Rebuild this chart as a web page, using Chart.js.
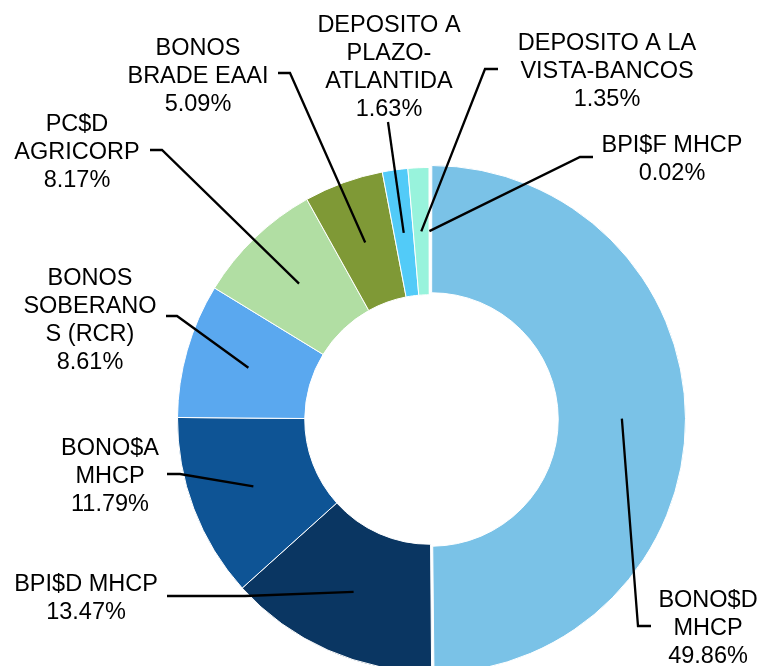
<!DOCTYPE html>
<html>
<head>
<meta charset="utf-8">
<script src="https://cdn.jsdelivr.net/npm/chart.js@4.4.1/dist/chart.umd.min.js"></script>
<style>
    html, body { margin: 0; padding: 0; background: #fff; overflow: hidden; }
    #portfolioChart { display: block; }
</style>
</head>
<body>
<canvas id="portfolioChart" width="761" height="700"></canvas>
<script>
// data (percent of portfolio)
const categories = [
    'BONO$D\nMHCP',
    'BPI$D MHCP',
    'BONO$A\nMHCP',
    'BONOS\nSOBERANO\nS (RCR)',
    'PC$D\nAGRICORP',
    'BONOS\nBRADE EAAI',
    'DEPOSITO A\nPLAZO-\nATLANTIDA',
    'DEPOSITO A LA\nVISTA-BANCOS',
    'BPI$F MHCP'
];
const shares = [49.86, 13.47, 11.79, 8.61, 8.17, 5.09, 1.63, 1.35, 0.02];
const sliceColors = ['#7AC2E7', '#0A3662', '#0E5495', '#5AA8EF', '#B1DEA3', '#7F9936', '#52CBF8', '#98F3DC', '#FFFFFF'];
// the big slice is pulled out a little (chart.js draws about half of this value)
const sliceOffsets = [8, 0, 0, 0, 0, 0, 0, 0, 0];

// where each label sits: text center x, first line y, elbow point, end of leader
const labelLayout = [
    { x: 708, y: 599, elbow: [638, 626], end: [651, 626] },
    { x: 86,  y: 583, elbow: [245, 596], end: [167, 596] },
    { x: 110, y: 447, elbow: [180, 474], end: [167, 474] },
    { x: 90,  y: 277, elbow: [177, 316], end: [166, 316] },
    { x: 77,  y: 123, elbow: [162, 150], end: [150, 150] },
    { x: 198, y: 47,  elbow: [290, 73],  end: [278, 73] },
    { x: 389, y: 24,  elbow: null,       end: [388, 122] },
    { x: 607, y: 42,  elbow: [485, 69],  end: [498, 69] },
    { x: 672, y: 144, elbow: [580, 157], end: [593, 157] }
];

const fontSize = 23.5;
const lineGap = 27.8;

const leaderLabels = {
    id: 'leaderLabels',
    afterDraw(chart) {
        const ctx = chart.ctx;
        const meta = chart.getDatasetMeta(0);
        ctx.save();
        ctx.strokeStyle = '#000';
        ctx.lineWidth = 2.3;
        ctx.fillStyle = '#000';
        ctx.font = fontSize + 'px "Liberation Sans", Arial, sans-serif';
        ctx.textAlign = 'center';
        ctx.textBaseline = 'alphabetic';
        meta.data.forEach((arc, i) => {
            const pos = arc.tooltipPosition();
            const lay = labelLayout[i];
            ctx.beginPath();
            ctx.moveTo(pos.x, pos.y);
            if (lay.elbow) ctx.lineTo(lay.elbow[0], lay.elbow[1]);
            ctx.lineTo(lay.end[0], lay.end[1]);
            ctx.stroke();

            const lines = chart.data.labels[i].split('\n');
            lines.push(shares[i].toFixed(2) + '%');
            lines.forEach((line, k) => {
                ctx.fillText(line, lay.x, lay.y + k * lineGap + fontSize * 0.358);
            });
        });
        ctx.restore();
    }
};

const ctx = document.getElementById('portfolioChart').getContext('2d');

new Chart(ctx, {
    type: 'doughnut',
    data: {
        labels: categories,
        datasets: [{
            data: shares,
            backgroundColor: sliceColors,
            borderColor: '#FFFFFF',
            borderWidth: 1,
            offset: sliceOffsets
        }]
    },
    options: {
        responsive: false,
        animation: false,
        cutout: '49.5%',
        layout: {
            padding: { left: 173, right: 75, top: 163, bottom: 24 }
        },
        plugins: {
            legend: { display: false },
            tooltip: { enabled: false }
        }
    },
    plugins: [leaderLabels]
});
</script>
</body>
</html>
